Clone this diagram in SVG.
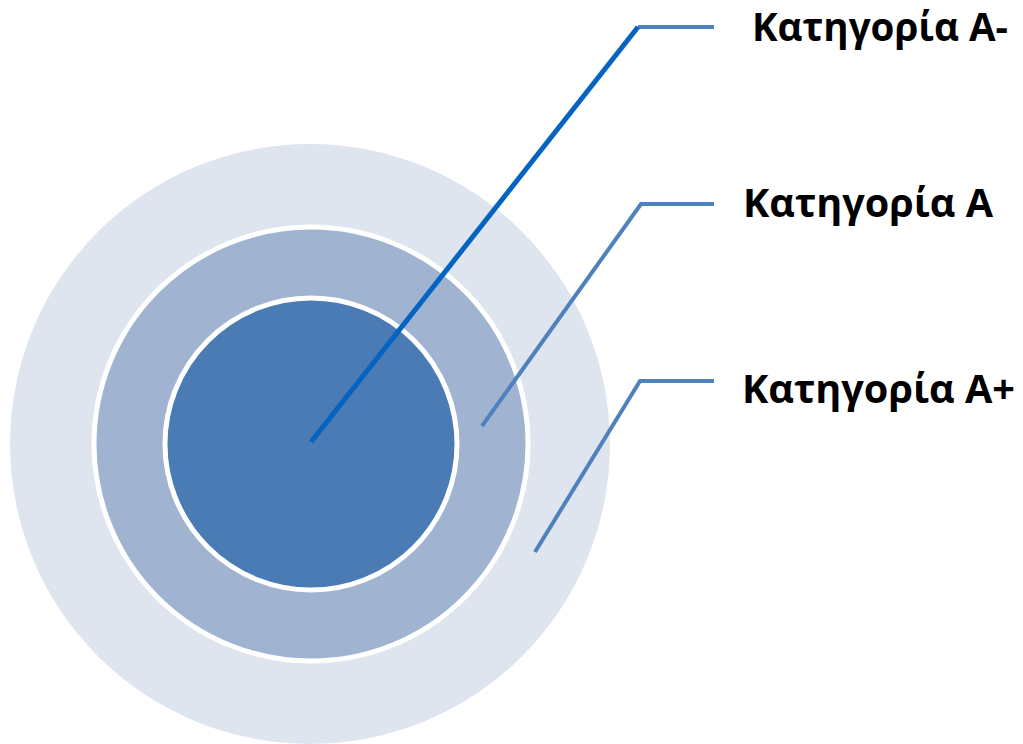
<svg xmlns="http://www.w3.org/2000/svg" width="1023" height="744" viewBox="0 0 1023 744">
<style>
.lbl{font-family:"Open Sans","Noto Sans","DejaVu Sans",sans-serif;font-weight:bold;font-size:39px;fill:#000}
.ring{stroke:#fff;stroke-width:5}
.conn{fill:none;stroke:#4F81BD;stroke-width:4}
</style>
<rect width="1023" height="744" fill="#fff"/>
<g id="ring-outer"><circle cx="310" cy="444" r="300" fill="#DFE5EF"/></g>
<g id="ring-middle"><circle class="ring" cx="311" cy="444" r="217" fill="#A0B4D2"/></g>
<g id="ring-inner"><circle class="ring" cx="311" cy="444" r="146" fill="#4A7BB4"/></g>
<g id="connectors">
<polyline class="conn" points="638,27 714,27"/>
<line x1="311" y1="442" x2="638" y2="27" stroke="#0563C1" stroke-width="5"/>
<polyline class="conn" points="482,426 641,204 714,204"/>
<polyline class="conn" points="535,552 640,381 714,381"/>
</g>
<g id="label-a-minus"><text class="lbl" x="752" y="41" textLength="256" lengthAdjust="spacingAndGlyphs">Κατηγορία Α-</text></g>
<g id="label-a"><text class="lbl" x="743" y="217" textLength="250" lengthAdjust="spacingAndGlyphs">Κατηγορία Α</text></g>
<g id="label-a-plus"><text class="lbl" x="742" y="403" textLength="273" lengthAdjust="spacingAndGlyphs">Κατηγορία Α+</text></g>
</svg>
